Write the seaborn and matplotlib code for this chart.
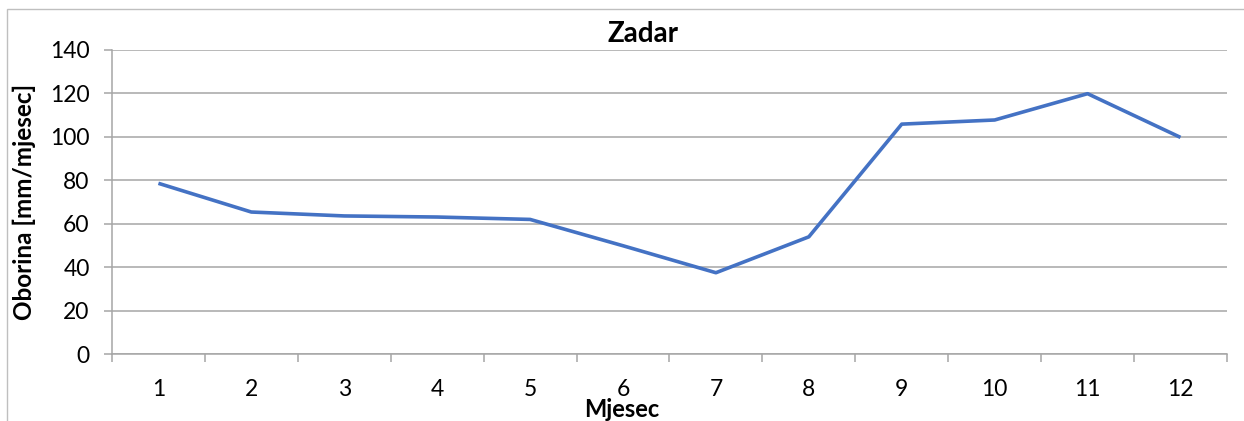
import matplotlib
matplotlib.use("Agg")
import numpy as np
import pandas as pd
import seaborn as sns
from matplotlib import pyplot as plt
from matplotlib.patches import Rectangle

# monthly precipitation, Zadar
months = [1, 2, 3, 4, 5, 6, 7, 8, 9, 10, 11, 12]
precip = [78.6, 65.4, 63.6, 63.1, 62.0, 49.9, 37.5, 54.0, 105.8, 107.7, 119.8, 99.7]
y_ticks = [0, 20, 40, 60, 80, 100, 120, 140]

title = "Zadar"
x_label = "Mjesec"
y_label = "Oborina [mm/mjesec]"

line_color = "#4472C4"
grid_color = "#A6A6A6"

sns.set_style("white")
plt.rcParams["font.family"] = ["Lato", "DejaVu Sans"]
plt.rcParams["text.color"] = "black"
plt.rcParams["axes.labelcolor"] = "black"
plt.rcParams["xtick.labelcolor"] = "black"
plt.rcParams["ytick.labelcolor"] = "black"

df = pd.DataFrame({"month": months, "precip": precip})

fig = plt.figure(figsize=(12.44, 4.21), dpi=100)
ax = fig.add_axes([0.0900, 0.1584, 0.8963, 0.7235])

sns.lineplot(data=df, x="month", y="precip", ax=ax, color=line_color,
             linewidth=2.6, solid_capstyle="butt")

ax.set_xlim(0.5, 12.5)
ax.set_ylim(0, 140)
ax.set_yticks(y_ticks)
ax.yaxis.grid(True, color=grid_color, linewidth=1.1)
ax.set_axisbelow(True)

# category bands: ticks at boundaries, labels at centres
ax.set_xticks(np.arange(0.5, 13, 1.0))
ax.set_xticklabels([])
ax.set_xticks(months, minor=True)
ax.set_xticklabels([str(m) for m in months], minor=True)
ax.tick_params(axis="x", which="major", length=6, width=1.1, color=grid_color,
               direction="out", bottom=True)
ax.tick_params(axis="x", which="minor", length=0, pad=18, labelsize=16.5,
               labelcolor="black")
ax.tick_params(axis="y", length=6, width=1.1, color=grid_color, direction="out",
               left=True, pad=10, labelsize=16.5, labelcolor="black")

for side in ("top", "right"):
    ax.spines[side].set_visible(False)
for side in ("left", "bottom"):
    ax.spines[side].set_color(grid_color)
    ax.spines[side].set_linewidth(1.1)

ax.set_xlabel(x_label, fontsize=17, fontweight="bold")
ax.xaxis.set_label_coords(0.457, -0.145)
ax.set_ylabel(y_label, fontsize=17.5, fontweight="bold")
ax.yaxis.set_label_coords(-0.068, 0.5)

fig.text(643 / 1244, 1 - 34 / 421, title, ha="center", va="center",
         fontsize=20, fontweight="bold")

fig.patches.append(Rectangle((7 / 1244, -0.1), 1.2, 1 - 9 / 421 + 0.1,
                             transform=fig.transFigure, fill=False,
                             edgecolor="#BFBFBF", linewidth=1.0))

fig.savefig("out.png", dpi=100, facecolor="white")
